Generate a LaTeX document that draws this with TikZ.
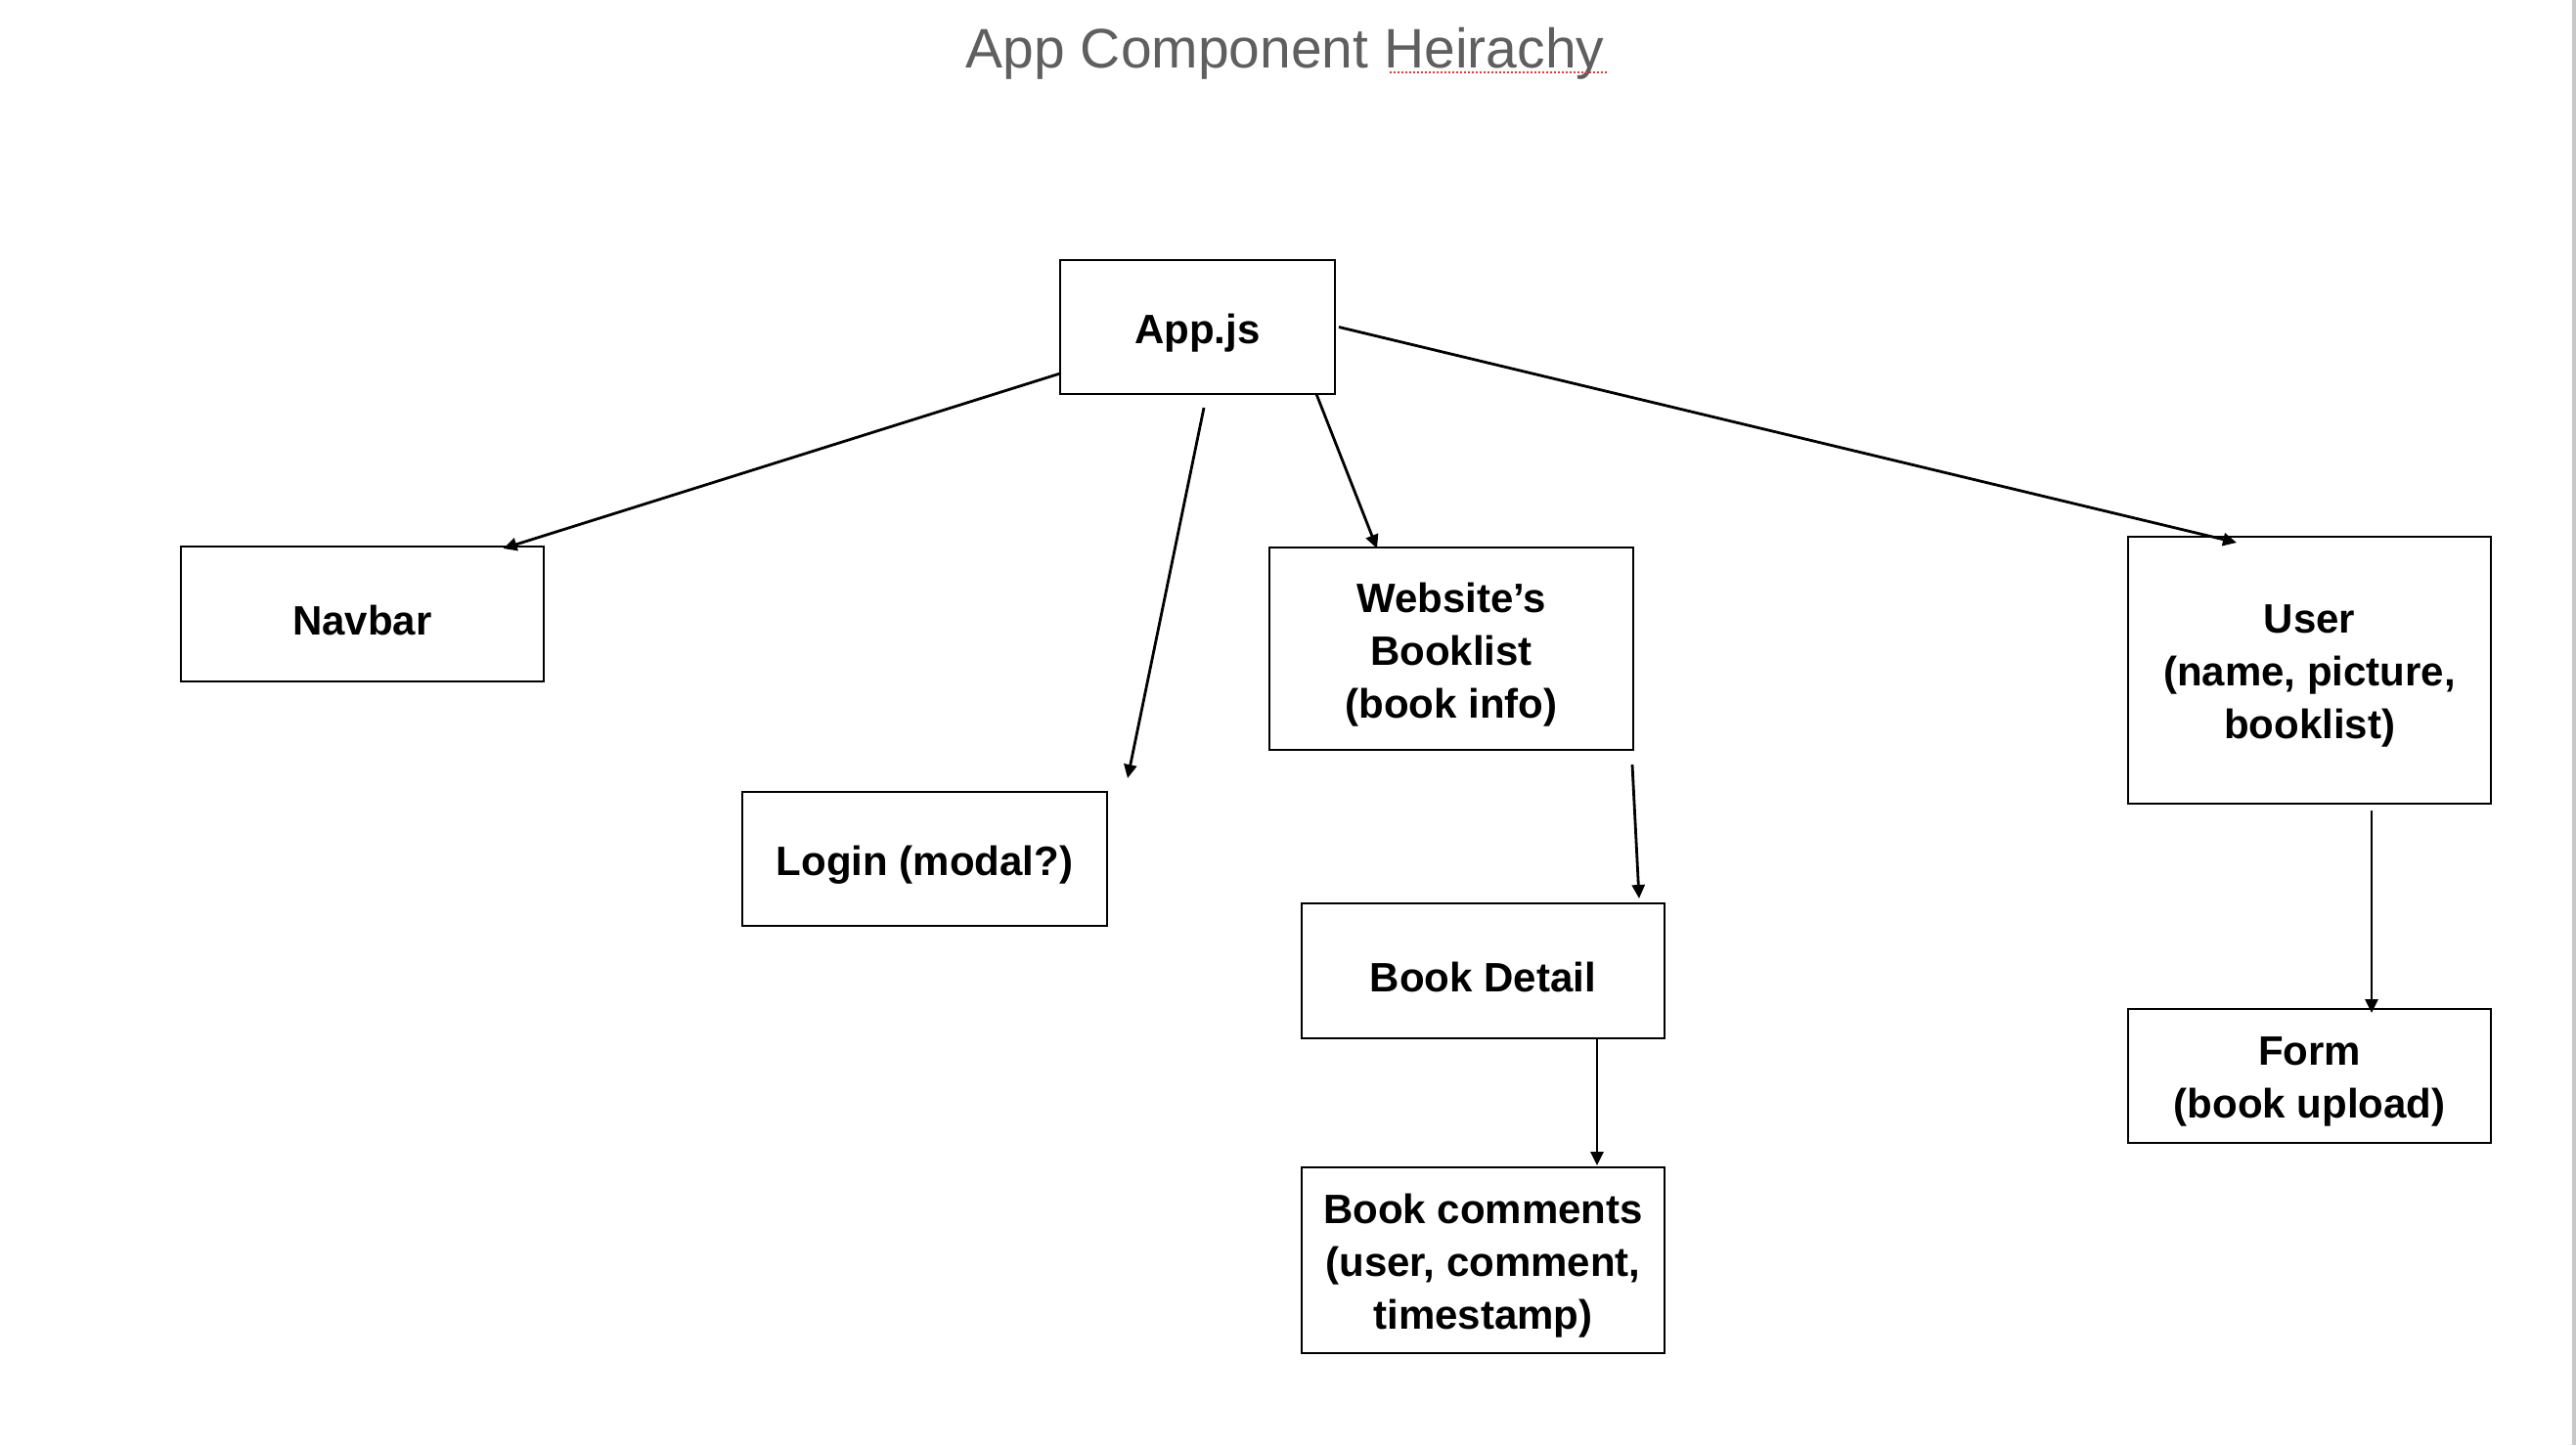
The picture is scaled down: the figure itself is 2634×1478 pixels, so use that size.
\documentclass[tikz,border=0pt]{standalone}
\usepackage{fontspec}
\setmainfont{Liberation Sans}
\usetikzlibrary{arrows.meta}
\definecolor{titlegray}{HTML}{5F5F5F}
\definecolor{spellred}{HTML}{E03A3A}
\definecolor{edgegray}{HTML}{C8C8C8}
\tikzset{
  box/.style={draw=black, line width=0.9pt, rectangle, inner sep=0pt, outer sep=0pt},
  txt/.style={inner sep=0pt, align=center, yshift=-3pt, font=\fontsize{21}{27}\selectfont\bfseries},
  arr/.style={draw=black, line width=1.4pt, -{Triangle[length=7pt,width=6.5pt]}},
}
\begin{document}
\begin{tikzpicture}[x=0.5pt,y=-0.5pt]
\useasboundingbox (0,0) rectangle (2634,1478);
\fill[white] (0,0) rectangle (2634,1478);
\fill[edgegray] (2630,0) rectangle (2634,1478);

% title
\node[anchor=base, inner sep=0pt, text=titlegray, font=\fontsize{28.5}{34}\selectfont] (title) at (1314,69) {App Component Heirachy};
\draw[spellred, line width=1pt, dash pattern=on 1pt off 1pt]
  ([xshift=-110pt,yshift=-2.5pt]title.base east) -- ([xshift=1pt,yshift=-2.5pt]title.base east);

% boxes
\node[box, minimum width=140.5pt, minimum height=68.5pt, label={[txt]center:App.js}] (app) at (1224.5,334.5) {};
\node[box, minimum width=185.5pt, minimum height=69pt, label={[txt]center:Navbar}] (navbar) at (370.5,628) {};
\node[box, minimum width=186.5pt, minimum height=68.5pt, label={[txt]center:Login (modal?)}] (login) at (945.5,878.5) {};
\node[box, minimum width=186pt, minimum height=103.5pt, label={[txt]center:Website’s\\Booklist\\(book info)}] (booklist) at (1484,663.5) {};
\node[box, minimum width=185.5pt, minimum height=136.5pt, label={[txt]center:User\\(name, picture,\\booklist)}] (user) at (2361.5,685.5) {};
\node[box, minimum width=185.5pt, minimum height=69pt, label={[txt]center:Book Detail}] (detail) at (1516.5,993) {};
\node[box, minimum width=185.5pt, minimum height=95pt, label={[txt]center:Book comments\\(user, comment,\\timestamp)}] (comments) at (1516.5,1289) {};
\node[box, minimum width=185.5pt, minimum height=68.5pt, label={[txt]center:Form\\(book upload)}] (form) at (2361.5,1100.5) {};

% connectors
\draw[arr] ([yshift=-23.75pt]app.west) -- ([xshift=72pt,yshift=-1pt]navbar.north);
\draw[arr] ([xshift=3.25pt,yshift=-7pt]app.south) -- ([xshift=103.75pt,yshift=7pt]login.north);
\draw[arr] ([xshift=-9.5pt]app.south east) -- ([xshift=-38pt,yshift=-0.5pt]booklist.north);
\draw[arr] ([xshift=2pt]app.east) -- ([xshift=-37.25pt,yshift=-3pt]user.north);
\draw[arr] ([xshift=-0.5pt,yshift=-7.5pt]booklist.south east) -- ([xshift=-13pt,yshift=2.5pt]detail.north east);
\draw[arr] ([xshift=58.25pt,yshift=-0.5pt]detail.south) -- ([xshift=58.25pt,yshift=1pt]comments.north);
\draw[arr] ([xshift=31.75pt,yshift=-3.5pt]user.south) -- ([xshift=31.75pt,yshift=-2pt]form.north);
\end{tikzpicture}
\end{document}
